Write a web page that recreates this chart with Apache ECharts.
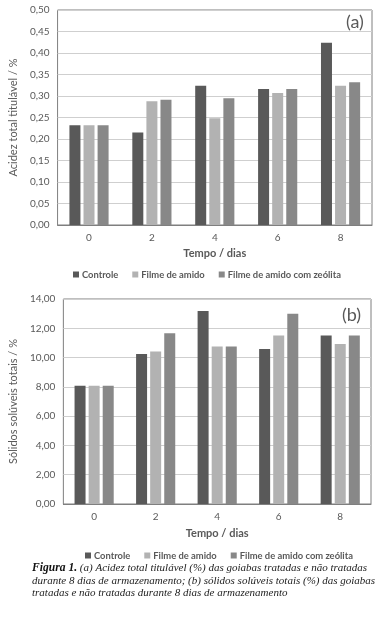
<!DOCTYPE html>
<html>
<head>
<meta charset="utf-8">
<script src="https://cdn.jsdelivr.net/npm/echarts@6/dist/echarts.min.js"></script>
<style>
html,body{margin:0;padding:0;background:#fff;}
#chart{width:381px;height:620px;}
</style>
</head>
<body>
<div id="chart"></div>
<script>
const categories = ['0', '2', '4', '6', '8'];
const seriesNames = ['Controle', 'Filme de amido', 'Filme de amido com zeólita'];
// (a) Acidez total titulável / %
const acidezControle = [0.232, 0.215, 0.324, 0.316, 0.424];
const acidezFilme = [0.232, 0.288, 0.248, 0.307, 0.324];
const acidezZeolita = [0.232, 0.291, 0.295, 0.316, 0.332];
// (b) Sólidos solúveis totais / %
const solidosControle = [8.07, 10.25, 13.18, 10.59, 11.50];
const solidosFilme = [8.07, 10.41, 10.75, 11.50, 10.93];
const solidosZeolita = [8.07, 11.66, 10.75, 13.00, 11.50];

const colors = ['#595959', '#b2b2b2', '#888888'];
const txt = '#595959';
const font = 'Lato, "Open Sans", sans-serif';

const chart = echarts.init(document.getElementById('chart'), null, {renderer: 'canvas'});

function yAxis(gridIndex, max, interval, name, gap) {
  return {
    gridIndex, type: 'value', min: 0, max, interval,
    name, nameLocation: 'middle', nameGap: gap,
    nameTextStyle: {color: txt, fontSize: 11, fontFamily: font},
    axisLine: {show: false}, axisTick: {show: false},
    axisLabel: {color: txt, fontSize: 10, fontFamily: font, margin: 8,
      formatter: v => v.toFixed(2).replace('.', ',')},
    splitLine: {lineStyle: {color: '#cfcfcf', width: 1}}
  };
}
function xAxis(gridIndex, gap) {
  return {
    gridIndex, type: 'category', data: categories,
    name: 'Tempo / dias', nameLocation: 'middle', nameGap: gap,
    nameTextStyle: {color: txt, fontSize: 11, fontWeight: 'bold', fontFamily: font},
    axisLine: {lineStyle: {color: '#7f7f7f', width: 1}},
    axisTick: {show: false},
    axisLabel: {color: txt, fontSize: 10, fontFamily: font, margin: 8}
  };
}
function bar(name, data, idx, gi) {
  return {
    name, type: 'bar', xAxisIndex: gi, yAxisIndex: gi, data,
    barWidth: 11, barGap: '28%',
    itemStyle: {color: colors[idx]}
  };
}
function legend(top, left) {
  return {
    top, left, data: seriesNames, itemWidth: 6, itemHeight: 6, itemGap: 14,
    icon: 'rect', selectedMode: false,
    textStyle: {color: txt, fontSize: 9.4, fontWeight: 'bold', fontFamily: font, padding: [0, 0, 0, -2]}
  };
}

chart.setOption({
  animation: false,
  color: colors,
  grid: [
    {left: 49, right: 9, top: 10, height: 215, show: true, borderColor: '#7f7f7f', borderWidth: 1},
    {left: 53, right: 10, top: 299, height: 205, show: true, borderColor: '#7f7f7f', borderWidth: 1}
  ],
  xAxis: [xAxis(0, 23), xAxis(1, 24)],
  yAxis: [
    yAxis(0, 0.5, 0.05, 'Acidez total titulável / %', 30),
    yAxis(1, 14, 2, 'Sólidos solúveis totais / %', 34)
  ],
  legend: [legend(265, 68), legend(546, 80)],
  series: [
    bar(seriesNames[0], acidezControle, 0, 0),
    bar(seriesNames[1], acidezFilme, 1, 0),
    bar(seriesNames[2], acidezZeolita, 2, 0),
    bar(seriesNames[0], solidosControle, 0, 1),
    bar(seriesNames[1], solidosFilme, 1, 1),
    bar(seriesNames[2], solidosZeolita, 2, 1)
  ],
  graphic: [
    {type: 'text', left: 346, top: 13, style: {text: '(a)', fill: txt, font: '18px ' + font}},
    {type: 'text', left: 342, top: 306, style: {text: '(b)', fill: txt, font: '18px ' + font}},
    {type: 'text', left: 32, top: 562, style: {
      text: '{b|Figura 1.} (a) Acidez total titulável (%) das goiabas tratadas e não tratadas\ndurante 8 dias de armazenamento; (b) sólidos solúveis totais (%) das goiabas\ntratadas e não tratadas durante 8 dias de armazenamento',
      fill: '#222', font: 'italic 11px "Liberation Serif", serif', lineHeight: 12.5,
      rich: {b: {fontWeight: 'bold', fontStyle: 'italic', fontFamily: '"Liberation Serif", serif', fontSize: 11.6, fill: '#111', lineHeight: 12.5}}
    }}
  ]
});
</script>
</body>
</html>
